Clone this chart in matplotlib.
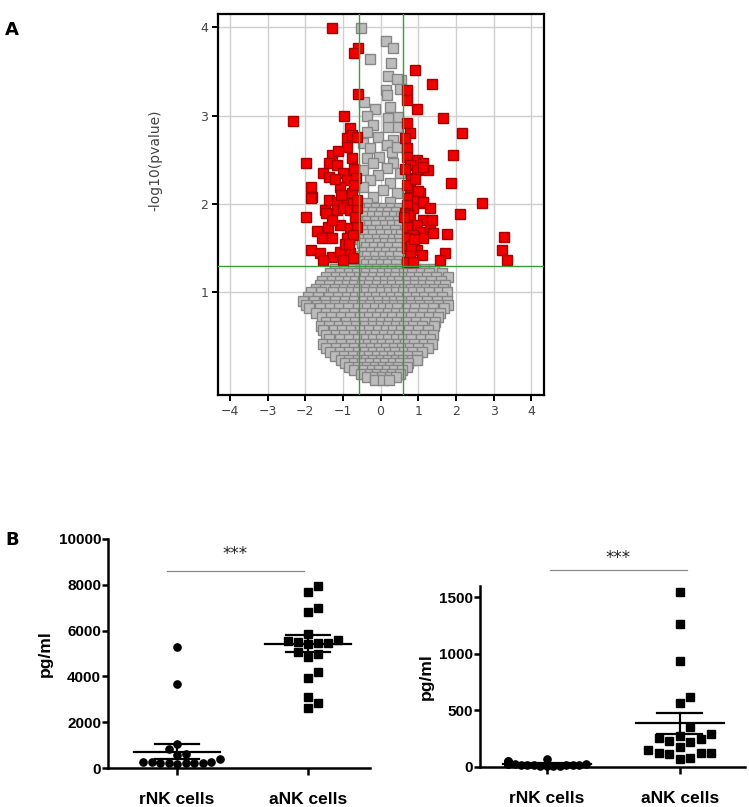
import matplotlib
matplotlib.use("Agg")
import matplotlib.pyplot as plt
import numpy as np

# ---------------- panel A: volcano data (log2 fold change, -log10 p) -------------
red_fc = [-1.28, -0.61, -0.72, 0.90, 1.36, -0.61, 0.69, 0.69, 0.96, -0.96, -2.34, 1.65,
          2.15, 0.69, 0.77, 0.64, -0.82, -0.90, -0.77, -0.90, -0.64, 1.91, 0.69, 0.69,
          -1.28, -1.36, -1.17, -0.77, -1.99, 0.96, 1.12, 0.77, 0.96, 1.25, 1.12, 1.86,
          2.69, -1.54, -1.36, -1.01, -0.90, -1.09, -1.84, -1.81, 0.77, 1.04, 0.85, 1.12,
          -1.84, -1.36, -1.17, -0.90, -0.74, -1.99, -1.49, -1.44, -1.17, -1.01, -0.82,
          -0.64, -1.41, -1.70, -1.09, -0.82, -0.64, -1.57, -1.28, -0.90, -0.74, -1.84,
          -1.62, -1.30, -1.09, -0.82, -0.74, -1.54, -1.01, 0.72, 0.96, 1.12, 1.30, 0.85,
          0.69, 2.10, 0.77, 1.12, 1.36, 0.96, 0.69, 1.04, 1.30, 0.85, 0.69, 1.12, 1.38,
          1.76, 3.27, 0.69, 0.96, 0.77, 1.09, 0.69, 0.85, 1.70, 1.57, 3.22, 3.35, 0.80,
          0.70, 0.65, -0.70, -0.66, -0.75, -1.20, -1.05, -0.68, -0.95, -1.30, 0.82, 0.92,
          1.00, 0.66, 0.74, -0.85, -0.70, -1.12, -0.62, 0.62, 0.88]
red_logp = [3.99, 3.77, 3.71, 3.52, 3.36, 3.25, 3.29, 3.18, 3.08, 3.00, 2.94, 2.97,
            2.80, 2.92, 2.80, 2.75, 2.86, 2.75, 2.78, 2.64, 2.76, 2.56, 2.63, 2.53,
            2.55, 2.47, 2.44, 2.52, 2.46, 2.50, 2.47, 2.44, 2.38, 2.38, 2.42, 2.24,
            2.01, 2.35, 2.31, 2.35, 2.27, 2.19, 2.19, 2.08, 2.19, 2.12, 2.05, 2.01,
            2.07, 2.05, 2.02, 2.05, 2.01, 1.85, 1.93, 1.90, 1.93, 1.95, 1.93,
            1.95, 1.74, 1.70, 1.76, 1.73, 1.74, 1.62, 1.62, 1.62, 1.65, 1.48,
            1.45, 1.40, 1.46, 1.45, 1.39, 1.37, 1.37, 2.07, 2.05, 2.02, 1.95, 1.95,
            1.99, 1.89, 1.84, 1.82, 1.82, 1.76, 1.74, 1.68, 1.71, 1.65, 1.62, 1.62, 1.67,
            1.66, 1.63, 1.50, 1.48, 1.42, 1.42, 1.34, 1.34, 1.45, 1.37, 1.48, 1.37, 2.30,
            2.22, 2.40, 2.40, 2.30, 2.12, 2.28, 2.10, 1.85, 1.55, 1.82, 1.53, 2.28, 2.15,
            1.90, 1.88, 1.55, 2.22, 2.60, 2.05, 1.85, 1.60]

grey_top_fc = [-0.53, 0.13, 0.32, -0.29, 0.27, 0.19, 0.53, 0.43, 0.13, 0.51, 0.16, -0.43,
               -0.16, 0.24, -0.35, 0.45, 0.19, -0.21, 0.43, 0.19, -0.37, -0.08, 0.32,
               -0.48, 0.16, -0.29, 0.29, 0.43, -0.03, -0.37, -0.21, 0.32, 0.16, -0.48,
               0.51, -0.08, -0.29, 0.24, -0.48, 0.05, 0.43, -0.21, 0.24, -0.37]
grey_top_logp = [3.99, 3.84, 3.77, 3.64, 3.60, 3.45, 3.40, 3.42, 3.29, 3.30, 3.23, 3.16,
                 3.08, 3.10, 3.00, 2.98, 2.97, 2.89, 2.87, 2.87, 2.81, 2.76, 2.72,
                 2.69, 2.67, 2.63, 2.59, 2.64, 2.53, 2.52, 2.46, 2.46, 2.41, 2.38,
                 2.35, 2.33, 2.27, 2.24, 2.19, 2.16, 2.12, 2.08, 2.02, 2.01]

# grey cloud read row by row
grey_row_logp = [1.96, 1.91, 1.86, 1.81, 1.76, 1.71, 1.66, 1.61, 1.56, 1.51, 1.46, 1.41,
                 1.36, 1.32, 1.27, 1.22, 1.18, 1.13, 1.08, 1.04, 1.00, 0.95, 0.90, 0.86,
                 0.82, 0.77, 0.72, 0.67, 0.62, 0.57, 0.52, 0.47, 0.42, 0.37, 0.33, 0.28,
                 0.24, 0.20, 0.16, 0.12, 0.08, 0.04, 0.01]
grey_row_fc = [
    [-0.50, -0.31, -0.12, 0.09, 0.28, 0.49],
    [-0.40, -0.21, 0.02, 0.19, 0.40],
    [-0.44, -0.24, -0.04, 0.16, 0.36, 0.53],
    [-0.53, -0.35, -0.14, 0.06, 0.25, 0.45],
    [-0.52, -0.30, -0.11, 0.11, 0.31, 0.48],
    [-0.46, -0.22, -0.02, 0.18, 0.39],
    [-0.41, -0.19, 0.01, 0.21, 0.42, 0.55],
    [-0.55, -0.33, -0.10, 0.10, 0.32, 0.50],
    [-0.49, -0.29, -0.08, 0.12, 0.30, 0.51],
    [-0.38, -0.17, 0.04, 0.22, 0.43],
    [-0.46, -0.26, -0.05, 0.15, 0.36, 0.53],
    [-0.55, -0.35, -0.15, 0.05, 0.25, 0.45],
    [-0.51, -0.32, -0.11, 0.09, 0.29, 0.50],
    [-0.40, -0.20, 0.00, 0.20, 0.40],
    [-1.22, -0.96, -0.74, -0.51, -0.29, -0.09, 0.12, 0.31, 0.52, 0.71, 0.96, 1.17, 1.41],
    [-1.35, -1.08, -0.85, -0.62, -0.40, -0.18, 0.03, 0.22, 0.42, 0.62, 0.84, 1.06, 1.29,
     1.62],
    [-1.46, -1.19, -0.98, -0.79, -0.58, -0.41, -0.19, 0.02, 0.21, 0.39, 0.61, 0.82,
     1.01, 1.22, 1.46, 1.78],
    [-1.55, -1.30, -1.08, -0.87, -0.68, -0.48, -0.28, -0.08, 0.12, 0.31, 0.50, 0.71,
     0.92, 1.12, 1.35, 1.60],
    [-1.62, -1.37, -1.11, -0.88, -0.71, -0.49, -0.31, -0.09, 0.11, 0.29, 0.51, 0.72,
     0.91, 1.12, 1.31, 1.56, 1.72],
    [-1.72, -1.47, -1.20, -0.96, -0.76, -0.57, -0.38, -0.18, 0.03, 0.20, 0.40, 0.62,
     0.81, 1.01, 1.20, 1.43, 1.66],
    [-1.84, -1.58, -1.26, -1.01, -0.79, -0.61, -0.38, -0.21, 0.01, 0.22, 0.41, 0.59,
     0.86, 1.06, 1.29, 1.54, 1.77],
    [-1.93, -1.66, -1.38, -1.12, -0.89, -0.68, -0.50, -0.30, -0.12, 0.08, 0.28, 0.48,
     0.70, 0.94, 1.15, 1.38, 1.62],
    [-2.06, -1.76, -1.49, -1.21, -0.94, -0.71, -0.46, -0.24, -0.06, 0.16, 0.36, 0.54,
     0.81, 1.01, 1.24, 1.51, 1.76],
    [-1.98, -1.70, -1.44, -1.22, -0.98, -0.74, -0.49, -0.27, -0.04, 0.17, 0.35, 0.57,
     0.80, 1.05, 1.28, 1.53, 1.79],
    [-1.89, -1.61, -1.34, -1.11, -0.86, -0.59, -0.36, -0.14, 0.06, 0.26, 0.44, 0.71,
     0.91, 1.16, 1.39, 1.68],
    [-1.72, -1.45, -1.21, -0.97, -0.72, -0.47, -0.24, -0.02, 0.19, 0.41, 0.62, 0.88,
     1.12, 1.36, 1.58],
    [-1.56, -1.31, -1.04, -0.81, -0.56, -0.31, -0.09, 0.11, 0.31, 0.54, 0.81, 1.04,
     1.29, 1.52],
    [-1.46, -1.20, -0.93, -0.69, -0.44, -0.20, 0.00, 0.21, 0.43, 0.67, 0.93, 1.18, 1.44],
    [-1.59, -1.36, -1.11, -0.89, -0.66, -0.41, -0.19, 0.01, 0.19, 0.41, 0.61, 0.86,
     1.09, 1.42],
    [-1.52, -1.25, -1.02, -0.78, -0.54, -0.30, -0.07, 0.13, 0.33, 0.55, 0.75, 0.98, 1.25],
    [-1.46, -1.19, -0.96, -0.71, -0.49, -0.29, -0.11, 0.09, 0.31, 0.49, 0.71, 0.94,
     1.19, 1.38],
    [-1.36, -1.08, -0.83, -0.61, -0.39, -0.19, 0.00, 0.20, 0.40, 0.60, 0.82, 1.06, 1.30],
    [-1.54, -1.29, -1.06, -0.79, -0.56, -0.34, -0.16, 0.04, 0.26, 0.46, 0.66, 0.89,
     1.14, 1.36],
    [-1.44, -1.18, -0.94, -0.70, -0.46, -0.25, -0.05, 0.15, 0.36, 0.56, 0.77, 1.00, 1.25],
    [-1.34, -1.09, -0.84, -0.61, -0.41, -0.19, 0.01, 0.21, 0.39, 0.61, 0.84, 1.09],
    [-1.22, -0.96, -0.73, -0.50, -0.30, -0.10, 0.10, 0.30, 0.50, 0.72, 0.96],
    [-1.06, -0.84, -0.61, -0.39, -0.21, 0.01, 0.19, 0.41, 0.59, 0.84, 0.96],
    [-0.95, -0.72, -0.49, -0.28, -0.08, 0.12, 0.32, 0.52, 0.74],
    [-0.84, -0.59, -0.36, -0.14, 0.06, 0.24, 0.46, 0.69],
    [-0.70, -0.46, -0.24, -0.03, 0.16, 0.36, 0.58],
    [-0.52, -0.29, -0.09, 0.11, 0.31, 0.52],
    [-0.36, -0.16, 0.04, 0.24, 0.40],
    [-0.14, 0.06, 0.21],
]

fc_cut = 0.585
p_cut = 1.3

# ---------------- panel B data (pg/ml) ----------------
groups = ["rNK cells", "aNK cells"]
left_rnk = [5300, 3650, 1050, 850, 620, 560, 390, 280, 260, 250, 240, 230, 220, 210,
            200, 190]
left_ank = [7950, 7700, 7000, 6800, 5850, 5600, 5550, 5500, 5450, 5450, 5400, 5050,
            5000, 4850, 4200, 3950, 3100, 2850, 2600]
left_mean = [720, 5430]
left_sem = [310, 370]

right_rnk = [70, 55, 50, 45, 40, 38, 35, 30, 30, 28, 25, 25, 22, 20, 20, 18, 15, 15,
             12, 10, 10, 8]
right_ank = [1550, 1260, 935, 620, 565, 355, 290, 275, 255, 245, 230, 220, 175, 150,
             125, 125, 120, 115, 80, 75]
right_mean = [27, 388]
right_sem = [4, 92]

W, H = 749, 807
fig = plt.figure(figsize=(W / 100, H / 100), dpi=100)


def box(l, t, r, b):
    return [l / W, 1 - b / H, (r - l) / W, (b - t) / H]


# ---------------- panel A ----------------
ax = fig.add_axes(box(218, 14, 544, 395))
ax.set_xlim(-4.32, 4.34)
ax.set_ylim(-0.16, 4.15)
ax.set_xticks(range(-4, 5))
ax.set_yticks([1, 2, 3, 4])
ax.grid(True, color="#cfcfcf", lw=1.0)
ax.set_axisbelow(True)

gx, gy = list(grey_top_fc), list(grey_top_logp)
for yv, xs in zip(grey_row_logp, grey_row_fc):
    gx += xs
    gy += [yv] * len(xs)
ax.plot(gx, gy, "s", ms=6.6, mfc="#bcbcbc", mec="#868686", mew=1.0, zorder=2)
ax.plot(red_fc, red_logp, "s", ms=6.6, mfc="#f00000", mec="#a80000", mew=1.0, zorder=3)

for v in (-fc_cut, fc_cut):
    ax.axvline(v, color="#3c9c3c", lw=1.0, zorder=4)
ax.axhline(p_cut, color="#3c9c3c", lw=1.0, zorder=4)

for s in ax.spines.values():
    s.set_linewidth(1.6)
ax.tick_params(direction="out", length=4, width=1.4, labelsize=9, labelcolor="#444444",
               pad=3)
fig.text(155 / W, 1 - 160 / H, "-log10(pvalue)", rotation=90, ha="center", va="center",
         fontsize=10, color="#444444")
fig.text(5 / W, 1 - 30 / H, "A", fontsize=13, fontweight="bold", va="center")
fig.text(5 / W, 1 - 540 / H, "B", fontsize=13, fontweight="bold", va="center")


# ---------------- panel B ----------------
def swarm(vals, x0, xpx, ypx, d):
    # spread points with equal-ish values sideways (GraphPad style)
    order = np.argsort(vals)
    placed = []
    xs = np.zeros(len(vals))
    for i in order:
        yp = vals[i] * ypx
        for k in [0, 1, -1, 2, -2, 3, -3, 4, -4, 5, -5, 6, -6]:
            xp = k * d
            if all((xp - a) ** 2 + (yp - b) ** 2 >= (d * 0.98) ** 2 for a, b in placed):
                break
        placed.append((xp, yp))
        xs[i] = x0 + xp / xpx
    return xs


tick_font = ["Liberation Sans Narrow", "Liberation Sans", "DejaVu Sans"]


def dot_panel(rect, xlim, ylim, yticks, rnk, ank, mean, sem, xpx, ypx, d_r, d_a,
              line_x, line_y, star_y):
    b = fig.add_axes(rect)
    b.set_xlim(*xlim)
    b.set_ylim(*ylim)
    for sp in ("top", "right"):
        b.spines[sp].set_visible(False)
    for sp in ("left", "bottom"):
        b.spines[sp].set_linewidth(1.8)
    b.plot(swarm(rnk, 0, xpx, ypx, d_r), rnk, "o", ms=5.2, color="black",
           clip_on=False, zorder=3)
    b.plot(swarm(ank, 1, xpx, ypx, d_a), ank, "s", ms=5.2, color="black",
           clip_on=False, zorder=3)
    for i in range(2):
        b.plot([i - 0.33, i + 0.33], [mean[i]] * 2, color="black", lw=1.6, zorder=4)
        b.plot([i - 0.17, i + 0.17], [mean[i] + sem[i]] * 2, color="black", lw=1.6,
               zorder=4)
        b.plot([i - 0.17, i + 0.17], [mean[i] - sem[i]] * 2, color="black", lw=1.6,
               zorder=4)
        b.plot([i, i], [mean[i] - sem[i], mean[i] + sem[i]], color="black", lw=1.6,
               zorder=4)
    b.set_xticks([0, 1])
    b.set_xticklabels(groups, fontsize=12.5, fontweight="bold",
                      family=["Liberation Sans", "DejaVu Sans"])
    b.set_yticks(yticks)
    b.set_yticklabels([str(t) for t in yticks], fontsize=11, fontweight="bold",
                      family=tick_font)
    b.tick_params(axis="x", direction="out", length=5, width=1.8, pad=12)
    b.tick_params(axis="y", direction="out", length=4, width=1.8, pad=1)
    b.plot(line_x, [line_y] * 2, color="#888888", lw=0.9, clip_on=False)
    b.text(sum(line_x) / 2, star_y, "***", ha="center", va="center", fontsize=12,
           color="#222222")
    b.set_ylabel("pg/ml", fontsize=12.5, fontweight="bold",
                 family=["Liberation Sans", "DejaVu Sans"], labelpad=4)
    return b


dot_panel(box(108, 539, 370, 768), (-0.527, 1.473), (0, 10000),
          [0, 2000, 4000, 6000, 8000, 10000], left_rnk, left_ank, left_mean, left_sem,
          131, 229 / 10000, 8.5, 10, [-0.08, 0.97], 8600, 9350)
dot_panel(box(480, 586, 745, 767), (-0.504, 1.49), (0, 1600),
          [0, 500, 1000, 1500], right_rnk, right_ank, right_mean, right_sem,
          133, 181 / 1600, 6.5, 10.5, [0.02, 1.05], 1739, 1850)

fig.savefig("out.png", dpi=100)
